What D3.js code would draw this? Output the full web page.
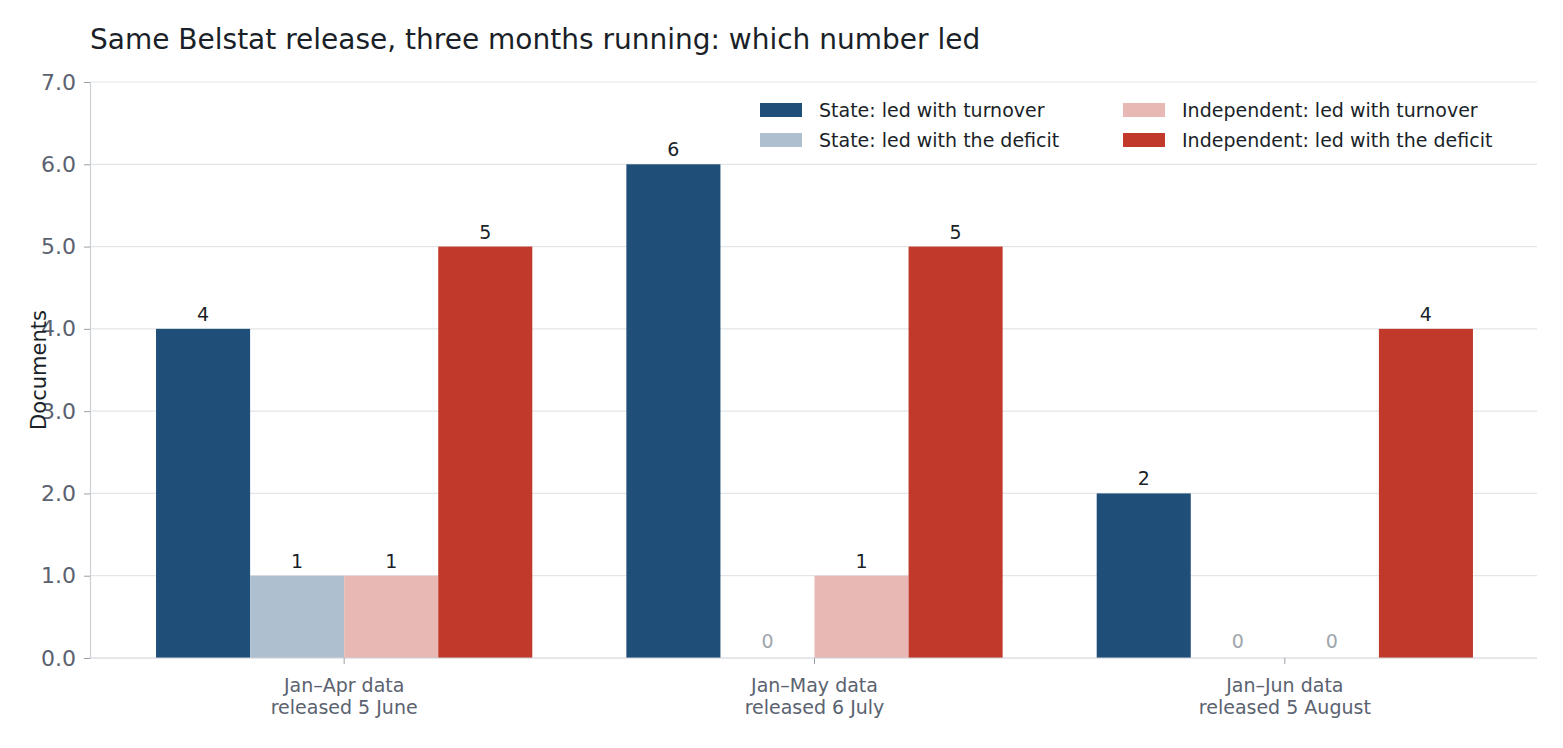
<!DOCTYPE html>
<html><head><meta charset="utf-8">
<script src="https://cdn.jsdelivr.net/npm/d3@7"></script>
<style>body{margin:0;background:#fff;font-family:"DejaVu Sans",sans-serif}</style>
</head><body><svg id="c" width="1563" height="748"></svg>
<script>
const categories = [["Jan–Apr data", "released 5 June"], ["Jan–May data", "released 6 July"], ["Jan–Jun data", "released 5 August"]]
const series = ["State: led with turnover", "State: led with the deficit", "Independent: led with turnover", "Independent: led with the deficit"]
const colors = ["#1f4e79", "#aec0cf", "#e8b8b4", "#c0392b"]
const values = [
  [4, 1, 1, 5],
  [6, 0, 1, 5],
  [2, 0, 0, 4]
]
const yTicks = [0, 1, 2, 3, 4, 5, 6, 7]

const svg = d3.select("#c")
const mLeft = 90, mRight = 1537, mTop = 82, mBottom = 658

const x0 = d3.scaleBand().domain(d3.range(categories.length)).range([109, 1520]).paddingInner(0.2).paddingOuter(0.1)
const x1 = d3.scaleBand().domain(d3.range(series.length)).range([0, x0.bandwidth()])
const y = d3.scaleLinear().domain([0, 7]).range([mBottom, mTop])

// grid
svg.append("g").selectAll("line").data(yTicks.slice(1)).enter().append("line")
  .attr("x1", mLeft).attr("x2", mRight).attr("y1", d => y(d)).attr("y2", d => y(d))
  .attr("stroke", "#e3e5e8").attr("stroke-width", 1.2)

// bars
const g = svg.append("g").selectAll("g").data(values).enter().append("g")
  .attr("transform", (d, i) => `translate(${x0(i)},0)`)
g.selectAll("rect").data(d => d).enter().append("rect")
  .attr("x", (d, i) => x1(i)).attr("width", x1.bandwidth())
  .attr("y", d => y(d)).attr("height", d => mBottom - y(d))
  .attr("fill", (d, i) => colors[i])
g.selectAll("text").data(d => d).enter().append("text")
  .attr("x", (d, i) => x1(i) + x1.bandwidth() / 2)
  .attr("y", d => d === 0 ? mBottom - 10 : y(d) - 8)
  .attr("text-anchor", "middle").attr("font-size", 19)
  .attr("fill", d => d === 0 ? "#a0a6ad" : "#1a1f28")
  .text(d => d)

// y axis
const ya = svg.append("g").attr("transform", `translate(${mLeft},0)`)
  .call(d3.axisLeft(y).tickValues(yTicks).tickSize(6).tickPadding(8))
ya.select(".domain").attr("stroke", "#ccd0d5").attr("stroke-width", 1.2)
ya.selectAll(".tick line").attr("stroke", "#9aa0a8")
ya.selectAll("text").attr("font-size", 22).attr("fill", "#5a6270").attr("font-family", "DejaVu Sans")

// x axis
svg.append("line").attr("x1", mLeft).attr("x2", mRight).attr("y1", mBottom).attr("y2", mBottom)
  .attr("stroke", "#ccd0d5").attr("stroke-width", 1.2)
const xt = svg.append("g").selectAll("g").data(categories).enter().append("g")
  .attr("transform", (d, i) => `translate(${x0(i) + x0.bandwidth() / 2},${mBottom})`)
xt.append("line").attr("y2", 6).attr("stroke", "#9aa0a8")
xt.append("text").attr("text-anchor", "middle").attr("font-size", 19).attr("fill", "#5a6270")
  .selectAll("tspan").data(d => d).enter().append("tspan")
  .attr("x", 0).attr("y", (d, i) => 34 + i * 22).text(d => d)

// y label
svg.append("text").attr("transform", `translate(46,${(mTop + mBottom) / 2}) rotate(-90)`)
  .attr("text-anchor", "middle").attr("font-size", 21).attr("fill", "#1a1f28").text("Documents")

// title
svg.append("text").attr("x", 90).attr("y", 49).attr("font-size", 28).attr("fill", "#1a1f28")
  .text("Same Belstat release, three months running: which number led")

// legend
const lg = svg.append("g").selectAll("g").data(series).enter().append("g")
  .attr("transform", (d, i) => `translate(${i < 2 ? 760 : 1123},${i % 2 ? 140 : 110})`)
lg.append("rect").attr("y", -7).attr("width", 42).attr("height", 14).attr("fill", (d, i) => colors[i])
lg.append("text").attr("x", 59).attr("y", 7).attr("font-size", 19).attr("fill", "#1a1f28").text(d => d)
</script></body></html>
